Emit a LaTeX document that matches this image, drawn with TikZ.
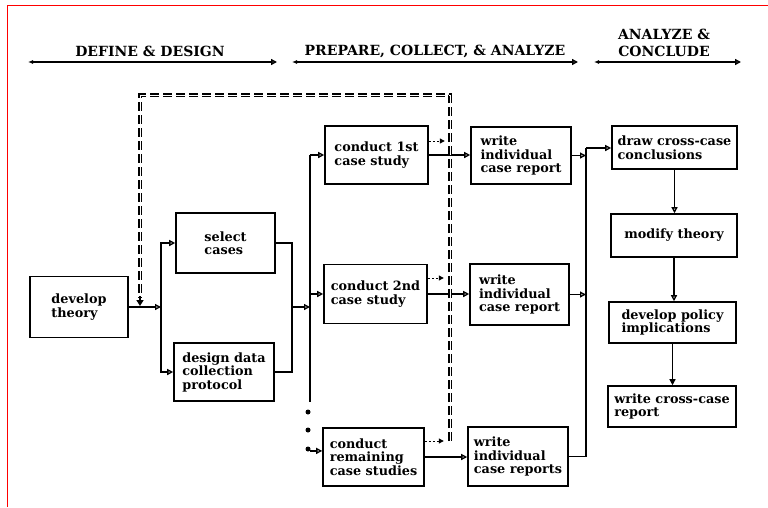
\documentclass[tikz,border=0pt]{standalone}
\usepackage{fontspec}
\setmainfont{DejaVu Serif}
\usetikzlibrary{arrows.meta,calc}
\begin{document}
\begin{tikzpicture}[x=1pt,y=-1pt,
  box/.style={draw, line width=1.6pt, align=left, inner sep=0pt, font=\bfseries\fontsize{12.8}{13.5}\selectfont},
  head/.style={font=\bfseries\fontsize{14}{17}\selectfont, align=center, inner sep=0pt},
  conn/.style={line width=1.3pt},
  arr/.style={conn, -{Triangle[open,length=6pt,width=6pt]}},
  arrf/.style={conn, -{Triangle[length=6pt,width=6pt]}},
  harr/.style={line width=1.5pt, {Latex[length=5pt,width=4pt]}-{Triangle[open,length=6pt,width=6pt]}},
  fb/.style={line width=1.7pt, double=white, double distance=0.7pt, dash pattern=on 9pt off 4pt},
  small/.style={line width=1pt, dash pattern=on 2.5pt off 1.5pt, -{Triangle[length=5pt,width=5pt]}},
  dot/.style={circle, fill, inner sep=0pt, minimum size=5pt}
]
\useasboundingbox (0,0) rectangle (768,507);
% red frame edges
\draw[red, line width=0.8pt] (7,507) -- (7,5.5) -- (768,5.5);

% headings
\node[head] (h1) at (150,51) {DEFINE \& DESIGN};
\node[head] (h2) at (435,51) {PREPARE, COLLECT, \& ANALYZE};
\node[head] (h3) at (664,43) {ANALYZE \&\\CONCLUDE};
\coordinate (h1l) at (28,62);  \coordinate (h1r) at (277,62);
\coordinate (h2l) at (292,62); \coordinate (h2r) at (578,62);
\coordinate (h3l) at (594,62); \coordinate (h3r) at (741,62);
\draw[harr] (h1l) -- (h1r);
\draw[harr] (h2l) -- (h2r);
\draw[harr] (h3l) -- (h3r);

% boxes
\node[box, minimum width=98pt, minimum height=61pt] (dt) at (79,307) {develop\\theory};
\node[box, minimum width=99pt, minimum height=60pt] (sel) at (225.5,243) {select\\cases};
\node[box, minimum width=100pt, minimum height=58pt] (des) at (224,372) {design data\\collection\\protocol};
\node[box, minimum width=103pt, minimum height=58pt] (c1) at (376.5,155) {conduct 1st\\case study};
\node[box, minimum width=103pt, minimum height=59pt] (c2) at (375.5,294) {conduct 2nd\\case study};
\node[box, minimum width=101pt, minimum height=58pt] (c3) at (373.5,457) {conduct\\remaining\\case studies};
\node[box, minimum width=100pt, minimum height=57pt] (w1) at (521,155.5) {write\\individual\\case report};
\node[box, minimum width=99pt, minimum height=61pt] (w2) at (519.5,294.5) {write\\individual\\case report};
\node[box, minimum width=100pt, minimum height=59pt] (w3) at (518,456.5) {write\\individual\\case reports};
\node[box, minimum width=125pt, minimum height=43pt] (dr) at (674.5,147.5) {draw cross-case\\conclusions};
\node[box, minimum width=126pt, minimum height=43pt] (mt) at (674,235.5) {modify theory};
\node[box, minimum width=127pt, minimum height=41pt] (dp) at (672.5,322.5) {develop policy\\implications};
\node[box, minimum width=128pt, minimum height=41pt] (wr) at (672,406.5) {write cross-case\\report};

% junctions
\coordinate (jA) at (161,307);
\coordinate (jB) at (292,307);
\coordinate (jC) at (310,307);
\coordinate (jTop) at (310,155);
\coordinate (jBot) at (310,402);
\coordinate (jR) at (586,148);

% define & design connectors
\draw[arr] (dt.east) -- (jA);
\draw[arr] (jA) |- (sel.west);
\draw[arr] (jA) |- (des.west);
\draw[conn] (sel.east) -| (jB);
\draw[conn] (des.east) -| (jB);
\draw[arr] (jB) -- (jC);

% distribution to case studies
\draw[conn] (jTop) -- (jBot);
\draw[arr] (jTop) -- (c1.west);
\draw[arr] (jC |- c2.west) -- (c2.west);
\node[dot] (d1) at (308,412) {};
\node[dot] (d2) at (308,430) {};
\node[dot] (d3) at (308,449) {};
\draw[arr] (d3.south east) -- (d3.south east -| c3.west);

% case study -> report
\draw[arr] (c1.east) -- (c1.east -| w1.west);
\draw[arr] (c2.east) -- (c2.east -| w2.west);
\draw[arr] (c3.east) -- (c3.east -| w3.west);

% feedback dashed loop
\coordinate (fbA) at (450,441);
\coordinate (fbB) at (450,95);
\coordinate (fbC) at (140,95);
\coordinate (fbD) at (140,306);
\draw[fb] (fbA) -- (fbB) -- (fbC) -- ($(fbD)+(0,-8)$);
\draw[line width=2.5pt, -{Triangle[length=6pt,width=7pt]}] ($(fbD)+(0,-10)$) -- (fbD);
\draw[small] ([yshift=14pt]c1.east) -- ++(16,0);
\draw[small] ([yshift=16pt]c2.east) -- ++(16,0);
\draw[small] ([yshift=16pt]c3.east) -- ++(19,0);

% reports -> cross-case
\draw[arr] (w1.east) -- (w1.east -| jR);
\draw[arr] (w2.east) -- (w2.east -| jR);
\draw[conn] (w3.east) -| (jR);
\draw[arr] (jR) -- (jR -| dr.west);

% right column
\draw[arr] (dr.south) -- (dr.south |- mt.north);
\draw[arr] (mt.south) -- (mt.south |- dp.north);
\draw[arrf] (dp.south) -- (dp.south |- wr.north);
\end{tikzpicture}
\end{document}
